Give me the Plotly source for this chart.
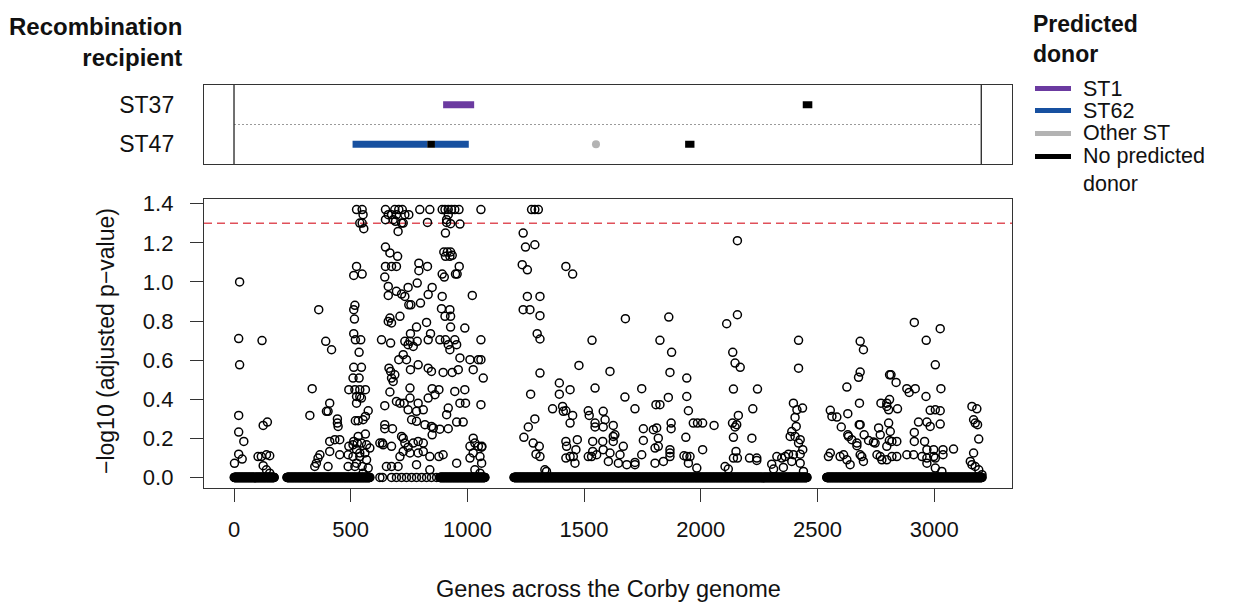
import plotly.graph_objects as go

# ---------------- DATA ----------------
# Top panel: recombination segments (recipient row, start gene, end gene, predicted donor)
seg_recipient = ["ST37", "ST37", "ST47", "ST47", "ST47", "ST47", "ST47"]
seg_start = [896, 2437, 508, 828, 861, 1548, 1933]
seg_end = [1029, 2478, 828, 861, 1006, 1554, 1973]
seg_donor = ["ST1", "No predicted donor", "ST62", "No predicted donor", "ST62", "Other ST", "No predicted donor"]
recipients = ["ST37", "ST47"]
genome_length = 3202

donor_names = ["ST1", "ST62", "Other ST", "No predicted donor"]
donor_labels = ["ST1", "ST62", "Other ST", "No predicted<br>donor"]
donor_colors = ["#6b3aa0", "#1750a0", "#b3b3b3", "#000000"]

# Bottom panel: genes with -log10(adjusted p) == 0 (contiguous runs + isolated genes)
zero_runs = [(1, 172), (227, 582), (882, 1075), (1200, 2455), (2540, 3205)]
zero_single = [625, 636, 675, 696, 718, 739, 761, 782, 804, 825, 846, 868]

# Bottom panel: genes with non-zero -log10(adjusted p-value)
gene_pos = [
    24, 20, 120, 24, 20, 20, 42, 125, 143, 20, 35, 2, 103, 117, 139, 153, 125, 139, 153,
    335, 325, 363, 393, 418, 396, 410, 403, 443, 443, 446, 346, 353, 360, 368, 403, 410, 432, 453, 410, 453,
    489, 492, 510, 513, 528, 525,
    525, 549, 553, 539, 549, 556, 525, 513, 549, 518, 513, 516, 513, 520, 543, 536, 513, 546, 510, 536,
    492, 518, 539, 563, 525, 539, 525, 546, 520, 532, 553, 563, 575, 563, 532, 546, 568, 582, 561, 539,
    568, 549, 575, 553, 489, 518, 525, 539, 510, 625, 636, 639,
    649, 661, 675, 689, 696, 706, 721, 732, 749, 796, 839, 892, 904, 918, 932, 946, 964, 1058, 918, 911,
    649, 682, 692, 718, 725, 829, 911, 928, 968,
    703, 906, 649, 668, 701, 899, 914, 928, 906, 925, 935,
    649, 675, 696, 792, 792, 829, 892, 901, 949, 956, 965, 646,
    661, 661, 696, 718, 732, 746, 749, 758, 785, 799, 832, 849, 892, 889, 925, 904, 928, 928, 1021,
    668, 661, 675, 711, 782, 825, 842, 989,
    632, 671, 732, 746, 756, 754, 768, 785, 832, 882, 906, 918, 946, 925, 954, 968, 1011, 1047, 1025, 1058, 1068,
    664, 671, 675, 682, 689, 706, 725, 739, 756, 789, 832, 846, 896, 935, 961,
    668, 696, 711, 729, 754, 754, 789, 746, 782, 811, 761, 782, 818, 846, 849, 878, 849, 861, 832, 946, 989,
    968, 992, 918, 911, 954, 982, 1058,
    646, 646, 646, 679, 675, 718, 725, 732, 746, 768, 789, 811, 725, 754, 711, 789, 811, 839, 878, 896, 882,
    918, 854,
    653, 675, 703, 782, 839, 954, 1011, 1025, 1032, 1047, 1061, 1025, 1011, 1054, 1061, 1032, 1054, 1058, 1062,
    1275, 1289, 1304, 1239, 1249, 1289, 1235, 1257, 1257, 1311, 1239, 1268, 1311, 1299, 1311, 1311, 1271, 1289,
    1261, 1242, 1282, 1308, 1294, 1311, 1332, 1339,
    1422, 1451, 1394, 1394, 1440, 1478, 1365, 1408, 1411, 1422, 1440, 1451, 1422, 1425, 1440, 1422, 1461, 1471,
    1465, 1454,
    1534, 1547, 1518, 1522, 1547, 1547, 1582, 1590, 1582, 1625, 1611, 1537, 1537, 1554, 1580, 1582, 1611, 1625,
    1625, 1632, 1604, 1647, 1654, 1668, 1518, 1532,
    1677, 1675, 1718, 1747, 1754, 1754, 1747, 1718, 1718, 1683,
    1797, 1811, 1818, 1808, 1825, 1804, 1818, 1804, 1840,
    1863, 1825, 1875, 1868, 1861, 1873, 1873, 1868, 1868, 1868,
    1940, 1940, 1947, 1968, 1986, 2008, 1936, 1928, 1940, 1954, 1947, 1983, 2057, 2008,
    2157, 2111, 2157, 2137, 2147, 2169, 2140, 2243, 2223, 2136, 2147, 2154, 2161, 2140, 2151, 2140, 2157, 2104,
    2118, 2219, 2209, 2240, 2240, 2304, 2326,
    2419, 2419, 2397, 2412, 2436, 2404, 2409, 2390, 2383, 2404, 2426, 2419, 2437, 2426, 2397, 2376, 2362, 2347,
    2390, 2354, 2426, 2440, 2312,
    2555, 2562, 2583, 2602, 2630, 2626, 2630, 2633, 2647, 2669, 2669, 2679, 2683, 2680, 2676, 2683, 2683, 2697,
    2700, 2719, 2740, 2747,
    2547, 2555, 2597, 2612, 2626, 2640, 2683, 2690, 2697,
    2762, 2769, 2772, 2797, 2809, 2797, 2805, 2843, 2809, 2815, 2837, 2883, 2893, 2919,
    2805, 2812, 2808, 2797, 2819, 2840, 2755, 2769, 2776, 2797, 2819, 2840, 2883, 2912, 2948,
    2915, 2966, 3026, 3005, 3029, 2965, 2933, 2969, 2983, 3005, 3026, 3026, 2983, 2915, 2915, 2959, 2969, 2998,
    2969, 2969, 2998, 3005, 3038, 3038, 3083, 3005, 3033,
    3162, 3183, 3169, 3176, 3186, 3191, 3169, 3155, 3162, 3176, 3191, 3205,
]
neglog_p = [
    1.00, 0.71, 0.70, 0.576, 0.317, 0.232, 0.184, 0.266, 0.283, 0.119, 0.094, 0.072, 0.107, 0.107, 0.116, 0.111, 0.060, 0.039, 0.022,
    0.454, 0.317, 0.858, 0.696, 0.653, 0.338, 0.380, 0.338, 0.299, 0.278, 0.261, 0.056, 0.073, 0.099, 0.116, 0.056, 0.184, 0.193, 0.193, 0.133, 0.116,
    0.116, 0.159, 0.167, 0.184, 0.176, 0.142,
    1.37, 1.37, 1.344, 1.301, 1.301, 1.272, 1.079, 1.033, 1.040, 0.880, 0.858, 0.810, 0.735, 0.704, 0.704, 0.640, 0.563, 0.563, 0.508, 0.508,
    0.449, 0.449, 0.449, 0.449, 0.414, 0.414, 0.380, 0.406, 0.290, 0.290, 0.295, 0.312, 0.341, 0.222, 0.210, 0.176, 0.167, 0.150, 0.125, 0.107,
    0.090, 0.056, 0.048, 0.022, 0.056, 0.056, 0.073, 0.125, 0.107, 0.176, 0.176, 0.167,
    1.37, 1.344, 1.344, 1.37, 1.344, 1.37, 1.37, 1.344, 1.344, 1.37, 1.37, 1.37, 1.37, 1.37, 1.37, 1.37, 1.37, 1.37, 1.344, 1.318,
    1.318, 1.318, 1.310, 1.301, 1.301, 1.304, 1.304, 1.298, 1.296,
    1.258, 1.250, 1.178, 1.148, 1.131, 1.153, 1.153, 1.153, 1.131, 1.131, 1.136,
    1.079, 1.079, 1.079, 1.096, 1.057, 1.079, 1.040, 1.025, 1.040, 1.040, 1.079, 1.025,
    0.977, 0.931, 0.952, 0.938, 0.926, 0.972, 0.883, 0.883, 0.994, 0.892, 0.935, 0.972, 0.926, 0.863, 0.858, 0.824, 0.824, 0.769, 0.931,
    0.815, 0.798, 0.790, 0.824, 0.769, 0.793, 0.735, 0.764,
    0.704, 0.687, 0.696, 0.679, 0.735, 0.696, 0.670, 0.696, 0.704, 0.704, 0.704, 0.679, 0.704, 0.653, 0.679, 0.611, 0.602, 0.602, 0.551, 0.704, 0.508,
    0.559, 0.542, 0.508, 0.491, 0.525, 0.602, 0.628, 0.602, 0.551, 0.576, 0.559, 0.542, 0.537, 0.537, 0.551,
    0.437, 0.389, 0.380, 0.380, 0.457, 0.406, 0.380, 0.346, 0.338, 0.346, 0.295, 0.287, 0.270, 0.261, 0.218, 0.449, 0.454, 0.423, 0.406, 0.440, 0.449,
    0.380, 0.380, 0.355, 0.321, 0.283, 0.283, 0.372,
    0.367, 0.270, 0.249, 0.249, 0.159, 0.210, 0.201, 0.176, 0.155, 0.176, 0.184, 0.176, 0.133, 0.125, 0.107, 0.125, 0.133, 0.107, 0.107, 0.116, 0.247,
    0.249, 0.253,
    0.056, 0.056, 0.056, 0.065, 0.039, 0.073, 0.159, 0.201, 0.176, 0.159, 0.155, 0.125, 0.099, 0.107, 0.073, 0.039, 0.022, 0.602, 0.159,
    1.37, 1.37, 1.37, 1.250, 1.178, 1.190, 1.088, 1.062, 0.926, 0.926, 0.858, 0.858, 0.827, 0.735, 0.708, 0.534, 0.426, 0.299,
    0.258, 0.205, 0.176, 0.159, 0.119, 0.107, 0.039, 0.031,
    1.079, 1.040, 0.483, 0.426, 0.449, 0.573, 0.351, 0.363, 0.338, 0.341, 0.278, 0.317, 0.184, 0.159, 0.107, 0.099, 0.073, 0.193,
    0.142, 0.107,
    0.701, 0.457, 0.341, 0.317, 0.278, 0.258, 0.338, 0.295, 0.258, 0.266, 0.542, 0.184, 0.133, 0.116, 0.184, 0.142, 0.125, 0.210,
    0.184, 0.218, 0.082, 0.073, 0.116, 0.159, 0.107, 0.107,
    0.812, 0.411, 0.351, 0.454, 0.249, 0.189, 0.116, 0.077, 0.065, 0.065,
    0.244, 0.253, 0.201, 0.372, 0.372, 0.150, 0.159, 0.073, 0.082,
    0.820, 0.701, 0.640, 0.537, 0.409, 0.278, 0.249, 0.142, 0.125, 0.107,
    0.508, 0.414, 0.341, 0.278, 0.278, 0.278, 0.205, 0.111, 0.107, 0.107, 0.073, 0.048, 0.266, 0.142,
    1.211, 0.786, 0.832, 0.640, 0.585, 0.563, 0.452, 0.452, 0.351, 0.278, 0.258, 0.270, 0.317, 0.205, 0.133, 0.099, 0.099, 0.056,
    0.043, 0.201, 0.099, 0.099, 0.087, 0.068, 0.107,
    0.701, 0.559, 0.380, 0.346, 0.355, 0.307, 0.261, 0.235, 0.210, 0.210, 0.193, 0.176, 0.142, 0.119, 0.116, 0.119, 0.107, 0.099,
    0.082, 0.051, 0.073, 0.031, 0.043,
    0.343, 0.312, 0.309, 0.258, 0.326, 0.462, 0.218, 0.210, 0.193, 0.176, 0.162, 0.270, 0.270, 0.380, 0.512, 0.539, 0.696, 0.653,
    0.218, 0.189, 0.181, 0.176,
    0.107, 0.125, 0.107, 0.116, 0.090, 0.065, 0.116, 0.107, 0.082,
    0.253, 0.218, 0.380, 0.380, 0.398, 0.363, 0.346, 0.351, 0.525, 0.525, 0.486, 0.454, 0.435, 0.454,
    0.278, 0.235, 0.189, 0.159, 0.184, 0.184, 0.116, 0.107, 0.090, 0.090, 0.107, 0.107, 0.116, 0.116, 0.107,
    0.793, 0.701, 0.761, 0.576, 0.454, 0.414, 0.283, 0.283, 0.343, 0.346, 0.341, 0.273, 0.261, 0.230, 0.184, 0.184, 0.142, 0.142,
    0.099, 0.073, 0.107, 0.099, 0.142, 0.116, 0.145, 0.048, 0.031,
    0.363, 0.351, 0.295, 0.278, 0.270, 0.196, 0.125, 0.082, 0.065, 0.056, 0.039, 0.014,
]
threshold = 1.3  # -log10(0.05)

x_ticks = [0, 500, 1000, 1500, 2000, 2500, 3000]
y_ticks = [0.0, 0.2, 0.4, 0.6, 0.8, 1.0, 1.2, 1.4]

# ---------------- FIGURE ----------------
FONT = "Liberation Sans, Arial, Helvetica, sans-serif"
OFF = 8  # default page body margin
W, H = 1234 - OFF, 604 - OFF
# target plot box in screen pixels: left 204, right 1012, top 85, bottom 488
ML, MR, MT, MB = 204 - OFF, 1234 - 1012, 85 - OFF, 604 - 488
PW, PH = W - ML - MR, H - MT - MB


def px_x(px):  # screen pixel -> paper x
    return (px - OFF - ML) / PW


def px_y(py):  # screen pixel -> paper y
    return (OFF + MT + PH - py) / PH


row_y = {r: (1 if r == "ST37" else 0) for r in recipients}
color_of = dict(zip(donor_names, donor_colors))

fig = go.Figure()

# zero-valued genes
zero_genes = [g for a, b in zero_runs for g in range(a, b + 1)] + zero_single
all_x = zero_genes + gene_pos
all_y = [0.0] * len(zero_genes) + neglog_p

fig.add_trace(go.Scatter(
    x=all_x, y=all_y, mode="markers", xaxis="x2", yaxis="y2",
    marker=dict(symbol="circle-open", size=8, color="black", line=dict(width=1.5, color="black")),
    showlegend=False, hoverinfo="x+y"))

# segments
for r, s, e, d in zip(seg_recipient, seg_start, seg_end, seg_donor):
    c = color_of[d]
    if e - s < 15:
        fig.add_trace(go.Scatter(x=[(s + e) / 2], y=[row_y[r]], mode="markers", xaxis="x", yaxis="y",
                                 marker=dict(symbol="circle", size=8, color=c), showlegend=False))
    else:
        fig.add_trace(go.Scatter(x=[s, e], y=[row_y[r], row_y[r]], mode="lines", xaxis="x", yaxis="y",
                                 line=dict(color=c, width=7), showlegend=False))

xr = [-128.6, 3333.6]
axis_line = dict(showline=True, mirror=True, linecolor="#333333", linewidth=1.4,
                 showgrid=False, zeroline=False)

shapes = [
    # threshold line
    dict(type="line", xref="x2 domain", yref="y2", x0=0, x1=1, y0=threshold, y1=threshold,
         line=dict(color="#e0505a", width=1.5, dash="8px,5px"), layer="below"),
    # top panel genome boundaries
    dict(type="line", xref="x", yref="y domain", x0=0, x1=0, y0=0, y1=1,
         line=dict(color="#333333", width=1.4)),
    dict(type="line", xref="x", yref="y domain", x0=genome_length, x1=genome_length, y0=0, y1=1,
         line=dict(color="#333333", width=1.4)),
    dict(type="line", xref="x", yref="y", x0=0, x1=genome_length, y0=0.5, y1=0.5,
         line=dict(color="#9a9a9a", width=1, dash="2px,2px"), layer="below"),
]

annotations = [
    dict(text="<b>Recombination<br>recipient</b>", x=px_x(184), y=px_y(42), xref="paper", yref="paper",
         xanchor="right", yanchor="middle", align="right", showarrow=False,
         font=dict(size=24, color="#111111", family=FONT)),
    dict(text="<b>Predicted<br>donor</b>", x=px_x(1031), y=px_y(9), xref="paper", yref="paper",
         xanchor="left", yanchor="top", align="left", showarrow=False,
         font=dict(size=23, color="#111111", family=FONT)),
    dict(text="\u2212log10 (adjusted p\u2212value)", x=px_x(106), y=px_y(341), xref="paper", yref="paper",
         xanchor="center", yanchor="middle", textangle=-90, showarrow=False,
         font=dict(size=23, color="#111111", family=FONT)),
    dict(text="Genes across the Corby genome", x=px_x(608), y=px_y(589), xref="paper", yref="paper",
         xanchor="center", yanchor="middle", showarrow=False,
         font=dict(size=23.5, color="#111111", family=FONT)),
]

legend_rows_py = [88.5, 110.5, 133.5, 156.5]
for name, lab, col, py in zip(donor_names, donor_labels, donor_colors, legend_rows_py):
    shapes.append(dict(type="line", xref="paper", yref="paper", x0=px_x(1035), x1=px_x(1071),
                       y0=px_y(py), y1=px_y(py), line=dict(color=col, width=5)))
    nlines = lab.count("<br>") + 1
    cy = py + (nlines - 1) * 13
    annotations.append(dict(text=lab, x=px_x(1081), y=px_y(cy), xref="paper", yref="paper",
                            xanchor="left", yanchor="middle", align="left", showarrow=False,
                            font=dict(size=21.5, color="#111111", family=FONT)))

fig.update_layout(
    width=W, height=H, margin=dict(l=ML, r=MR, t=MT, b=MB, pad=0),
    paper_bgcolor="white", plot_bgcolor="white",
    font=dict(family=FONT, size=22, color="#111111"),
    showlegend=False,
    xaxis=dict(domain=[0, 1], anchor="y", range=xr, showticklabels=False, ticks="", **axis_line),
    yaxis=dict(domain=[px_y(164), 1], anchor="x", range=[-0.5, 1.5],
               tickmode="array", tickvals=[row_y[r] for r in recipients], ticktext=recipients,
               ticks="", ticklabelstandoff=24, tickfont=dict(size=23), **axis_line),
    xaxis2=dict(domain=[0, 1], anchor="y2", range=xr, tickmode="array", tickvals=x_ticks,
                ticktext=[str(t) for t in x_ticks], ticks="outside", ticklen=13, tickwidth=1.3,
                tickcolor="#333333", ticklabelstandoff=8, tickfont=dict(size=22), **axis_line),
    yaxis2=dict(domain=[0, px_y(199)], anchor="x2", range=[-0.054, 1.424], tickmode="array",
                tickvals=y_ticks, ticktext=[f"{t:.1f}" for t in y_ticks], ticks="outside", ticklen=13,
                tickwidth=1.3, tickcolor="#333333", ticklabelstandoff=12, tickfont=dict(size=22),
                **axis_line),
    shapes=shapes,
    annotations=annotations,
)

fig.write_html("out.html")
